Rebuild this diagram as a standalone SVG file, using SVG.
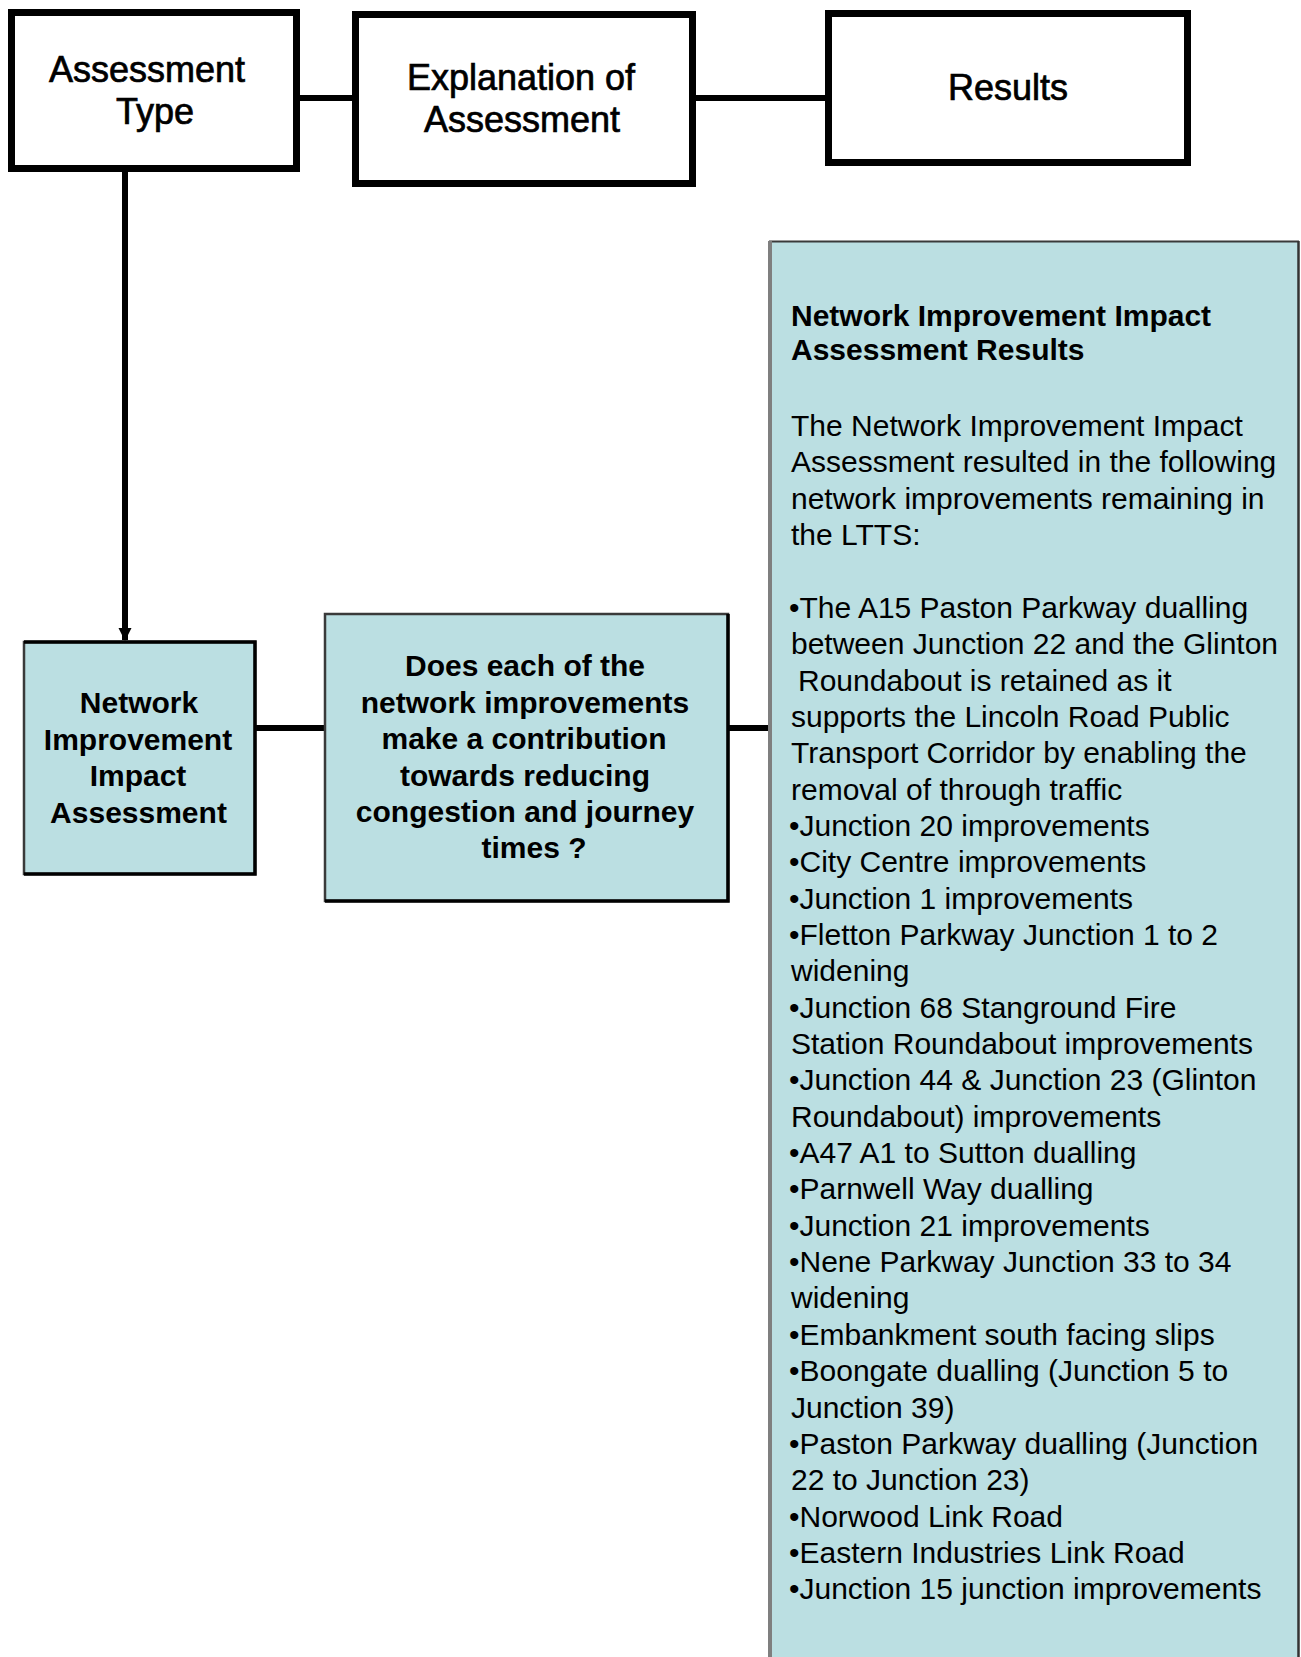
<svg xmlns="http://www.w3.org/2000/svg" width="1301" height="1657" viewBox="0 0 1301 1657">
  <defs>
    <style>
      .hdrbox { fill: #ffffff; stroke: #000000; stroke-width: 7; }
      .hdrtxt { font-family: "Liberation Sans", Arial, sans-serif; font-size: 36px; fill: #000000; stroke: #000000; stroke-width: 0.7; text-anchor: middle; }
      .tealbox { fill: #BBDFE2; stroke: #3a3a3a; stroke-width: 2.5; }
      .edge { stroke: #000000; stroke-width: 3.5; fill: none; }
      .btxt { font-family: "Liberation Sans", Arial, sans-serif; font-size: 30px; font-weight: bold; fill: #000000; text-anchor: middle; }
      .title { font-family: "Liberation Sans", Arial, sans-serif; font-size: 30px; font-weight: bold; fill: #000000; }
      .body { font-family: "Liberation Sans", Arial, sans-serif; font-size: 30px; fill: #000000; }
      .conn { stroke: #000000; stroke-width: 6; fill: none; }
    </style>
    <marker id="arrow" markerWidth="14" markerHeight="14" refX="12" refY="7" orient="auto" markerUnits="userSpaceOnUse">
      <path d="M0,0.5 L13,7 L0,13.5 Z" fill="#000000"/>
    </marker>
  </defs>

  <rect x="0" y="0" width="1301" height="1657" fill="#ffffff"/>

  <g id="connectors">
    <line class="conn" x1="300" y1="98" x2="352" y2="98"/>
    <line class="conn" x1="696" y1="98" x2="825" y2="98"/>
    <line class="conn" x1="125" y1="172" x2="125" y2="640" stroke-width="5" marker-end="url(#arrow)"/>
    <line class="conn" x1="256" y1="728" x2="324" y2="728"/>
    <line class="conn" x1="729" y1="728" x2="769" y2="728"/>
  </g>

  <g id="node-assessment-type">
    <rect class="hdrbox" x="11.5" y="12.5" width="285" height="156"/>
    <text class="hdrtxt" x="147" y="82">Assessment</text>
    <text class="hdrtxt" x="155" y="124">Type</text>
  </g>

  <g id="node-explanation">
    <rect class="hdrbox" x="355.5" y="14.5" width="337" height="169"/>
    <text class="hdrtxt" x="521" y="90">Explanation of</text>
    <text class="hdrtxt" x="522" y="132">Assessment</text>
  </g>

  <g id="node-results-header">
    <rect class="hdrbox" x="828.5" y="13.5" width="359" height="149"/>
    <text class="hdrtxt" x="1008" y="100">Results</text>
  </g>

  <g id="node-niia">
    <rect class="tealbox" x="24" y="642" width="231" height="232"/>
    <polyline class="edge" points="24,642 255,642 255,874 24,874"/>
    <text class="btxt" x="139" y="713">Network</text>
    <text class="btxt" x="138" y="749.5">Improvement</text>
    <text class="btxt" x="138" y="786">Impact</text>
    <text class="btxt" x="138.5" y="822.5">Assessment</text>
  </g>

  <g id="node-question">
    <rect class="tealbox" x="325" y="614" width="403" height="287"/>
    <polyline class="edge" points="728,614 728,901 325,901"/>
    <text class="btxt" x="525" y="676">Does each of the</text>
    <text class="btxt" x="525" y="712.5">network improvements</text>
    <text class="btxt" x="524" y="749">make a contribution</text>
    <text class="btxt" x="525" y="785.5">towards reducing</text>
    <text class="btxt" x="525" y="822">congestion and journey</text>
    <text class="btxt" x="534" y="858">times ?</text>
  </g>

  <g id="node-results">
    <rect x="769" y="241" width="529" height="1430" fill="#BBDFE2"/>
    <line x1="769" y1="241.5" x2="1299" y2="241.5" stroke="#3a3a3a" stroke-width="2"/>
    <line x1="770" y1="241" x2="770" y2="1657" stroke="#7f7f7f" stroke-width="4"/>
    <line x1="1298.5" y1="241" x2="1298.5" y2="1657" stroke="#333333" stroke-width="2.5"/>
    <text class="title" x="791" y="326">Network Improvement Impact</text>
    <text class="title" x="791" y="360">Assessment Results</text>
    <text class="body" x="791" y="436">The Network Improvement Impact</text>
    <text class="body" x="791" y="472.4">Assessment resulted in the following</text>
    <text class="body" x="791" y="508.7">network improvements remaining in</text>
    <text class="body" x="791" y="545.1">the LTTS:</text>
    <text class="body" x="789" y="617.8">•The A15 Paston Parkway dualling</text>
    <text class="body" x="791" y="654.1">between Junction 22 and the Glinton</text>
    <text class="body" x="798" y="690.5">Roundabout is retained as it</text>
    <text class="body" x="791" y="726.8">supports the Lincoln Road Public</text>
    <text class="body" x="791" y="763.2">Transport Corridor by enabling the</text>
    <text class="body" x="791" y="799.5">removal of through traffic</text>
    <text class="body" x="789" y="835.9">•Junction 20 improvements</text>
    <text class="body" x="789" y="872.2">•City Centre improvements</text>
    <text class="body" x="789" y="908.6">•Junction 1 improvements</text>
    <text class="body" x="789" y="944.9">•Fletton Parkway Junction 1 to 2</text>
    <text class="body" x="791" y="981.3">widening</text>
    <text class="body" x="789" y="1017.6">•Junction 68 Stanground Fire</text>
    <text class="body" x="791" y="1054">Station Roundabout improvements</text>
    <text class="body" x="789" y="1090.3">•Junction 44 &amp; Junction 23 (Glinton</text>
    <text class="body" x="791" y="1126.7">Roundabout) improvements</text>
    <text class="body" x="789" y="1163">•A47 A1 to Sutton dualling</text>
    <text class="body" x="789" y="1199.4">•Parnwell Way dualling</text>
    <text class="body" x="789" y="1235.7">•Junction 21 improvements</text>
    <text class="body" x="789" y="1272.1">•Nene Parkway Junction 33 to 34</text>
    <text class="body" x="791" y="1308.4">widening</text>
    <text class="body" x="789" y="1344.8">•Embankment south facing slips</text>
    <text class="body" x="789" y="1381.1">•Boongate dualling (Junction 5 to</text>
    <text class="body" x="791" y="1417.5">Junction 39)</text>
    <text class="body" x="789" y="1453.8">•Paston Parkway dualling (Junction</text>
    <text class="body" x="791" y="1490.2">22 to Junction 23)</text>
    <text class="body" x="789" y="1526.5">•Norwood Link Road</text>
    <text class="body" x="789" y="1562.9">•Eastern Industries Link Road</text>
    <text class="body" x="789" y="1599.2">•Junction 15 junction improvements</text>
  </g>
</svg>
